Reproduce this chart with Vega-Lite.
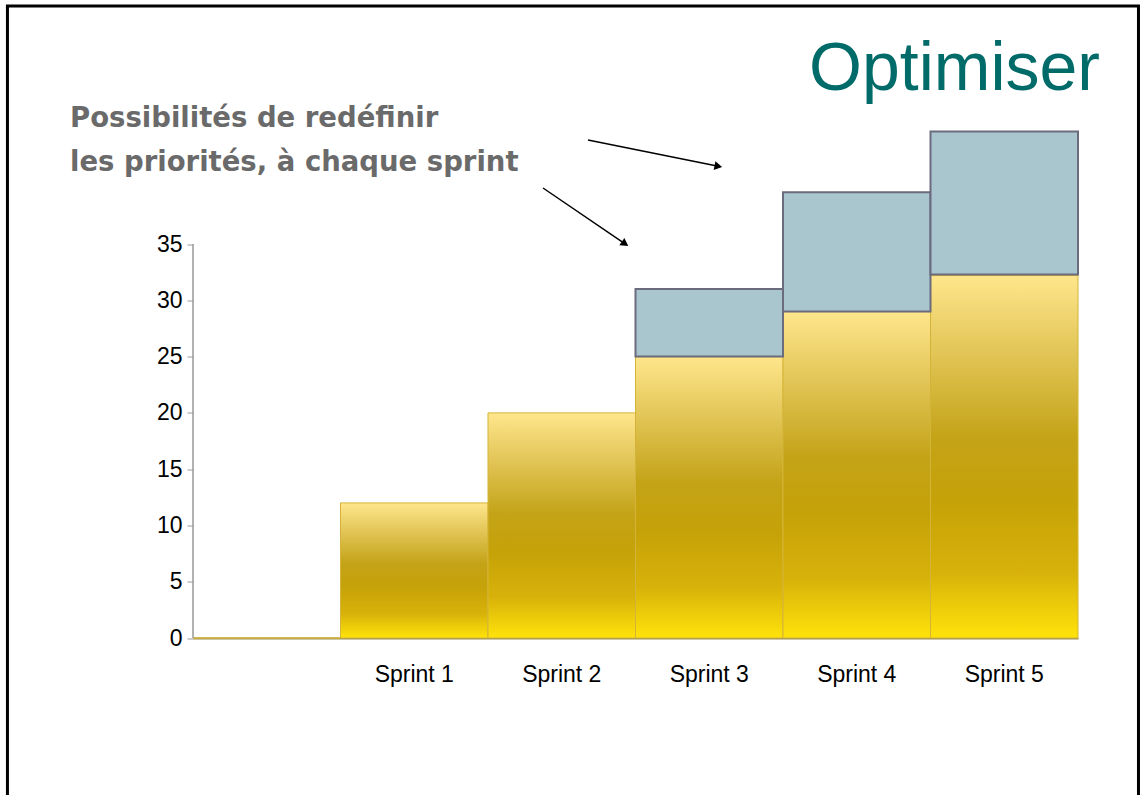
{
  "$schema": "https://vega.github.io/schema/vega-lite/v6.json",
  "width": 885,
  "height": 506.5,
  "autosize": "none",
  "padding": {"left": 193, "top": 131.5, "right": 62, "bottom": 157},
  "background": "white",
  "config": {"view": {"stroke": null}, "font": "Liberation Sans"},
  "title": {
    "text": "Optimiser",
    "anchor": "end",
    "frame": "group",
    "font": "Liberation Sans",
    "fontSize": 68,
    "fontWeight": "normal",
    "color": "#006B68",
    "baseline": "alphabetic",
    "offset": -153,
    "dx": 22
  },
  "datasets": {
    "done": [
      {"sprint": "", "points": 0},
      {"sprint": "Sprint 1", "points": 12},
      {"sprint": "Sprint 2", "points": 20},
      {"sprint": "Sprint 3", "points": 25},
      {"sprint": "Sprint 4", "points": 29},
      {"sprint": "Sprint 5", "points": 32.2}
    ],
    "reprioritised": [
      {"sprint": "Sprint 3", "low": 25, "high": 31},
      {"sprint": "Sprint 4", "low": 29, "high": 39.6},
      {"sprint": "Sprint 5", "low": 32.3, "high": 45}
    ],
    "notes": [
      {"line": "Possibilités de redéfinir", "px": -0.834, "py": 45.4},
      {"line": "les priorités, à chaque sprint", "px": -0.834, "py": 41.5}
    ],
    "arrows": [
      {"id": "a", "x1": 2.678, "y1": 44.24, "x2": 3.553, "y2": 41.93},
      {"id": "b", "x1": 2.373, "y1": 39.98, "x2": 2.922, "y2": 35.09}
    ],
    "axisline": [{"x": 0, "y": 0, "y2": 35}],
    "frame": [{"x": -1.258, "x2": 6.41, "y": 56.15, "y2": -14.4}]
  },
  "layer": [
    {
      "layer": [
        {
          "data": {"name": "done"},
          "mark": {
            "type": "bar",
            "stroke": "#D4B438",
            "strokeWidth": 1,
            "color": {
              "gradient": "linear",
              "x1": 0, "y1": 0, "x2": 0, "y2": 1,
              "stops": [
                {"offset": 0, "color": "#FFE68C"},
                {"offset": 0.2, "color": "#E3C75A"},
                {"offset": 0.45, "color": "#C4A317"},
                {"offset": 0.62, "color": "#C5A208"},
                {"offset": 0.82, "color": "#D8B20A"},
                {"offset": 1, "color": "#FFE30A"}
              ]
            }
          },
          "encoding": {
            "x": {
              "field": "sprint",
              "type": "nominal",
              "sort": ["", "Sprint 1", "Sprint 2", "Sprint 3", "Sprint 4", "Sprint 5"],
              "scale": {"paddingInner": 0, "paddingOuter": 0},
              "axis": {
                "title": null,
                "labelAngle": 0,
                "ticks": false,
                "labelFontSize": 23,
                "labelColor": "#000000",
                "labelPadding": 25,
                "domainColor": "#9C8F55",
                "domainWidth": 2
              }
            },
            "y": {
              "field": "points",
              "type": "quantitative",
              "scale": {"domain": [0, 45], "nice": false, "zero": true},
              "axis": {
                "title": null,
                "values": [0, 5, 10, 15, 20, 25, 30, 35],
                "grid": false,
                "domain": false,
                "tickColor": "#999999",
                "tickSize": 6,
                "labelFontSize": 23,
                "labelColor": "#000000",
                "labelPadding": 5
              }
            }
          }
        },
        {
          "data": {"name": "reprioritised"},
          "mark": {"type": "bar", "color": "#A9C5CE", "stroke": "#6B6B7E", "strokeWidth": 2},
          "encoding": {
            "x": {"field": "sprint", "type": "nominal", "sort": ["", "Sprint 1", "Sprint 2", "Sprint 3", "Sprint 4", "Sprint 5"]},
            "y": {"field": "low", "type": "quantitative"},
            "y2": {"field": "high"}
          }
        }
      ]
    },
    {
      "layer": [
        {
          "data": {"name": "axisline"},
          "mark": {"type": "rule", "color": "#999999", "strokeWidth": 1.5},
          "encoding": {
            "x": {"field": "x", "type": "quantitative", "scale": {"domain": [0, 6], "nice": false, "zero": false}, "axis": null},
            "y": {"field": "y", "type": "quantitative", "scale": {"domain": [0, 45], "nice": false}, "axis": null},
            "y2": {"field": "y2"}
          }
        },
        {
          "data": {"name": "notes"},
          "mark": {"type": "text", "align": "left", "baseline": "alphabetic", "font": "DejaVu Sans", "fontWeight": "bold", "fontSize": 27.5, "color": "#6A6A6A"},
          "encoding": {
            "x": {"field": "px", "type": "quantitative"},
            "y": {"field": "py", "type": "quantitative"},
            "text": {"field": "line"}
          }
        },
        {
          "data": {"name": "arrows"},
          "mark": {"type": "rule", "color": "#000000", "strokeWidth": 1.5},
          "encoding": {
            "x": {"field": "x1", "type": "quantitative"},
            "y": {"field": "y1", "type": "quantitative"},
            "x2": {"field": "x2"},
            "y2": {"field": "y2"}
          }
        },
        {
          "data": {"name": "arrows"},
          "transform": [{"filter": "datum.id === 'a'"}],
          "mark": {"type": "point", "shape": "triangle", "filled": true, "color": "#000000", "opacity": 1, "size": 80, "angle": 101.4},
          "encoding": {
            "x": {"field": "x2", "type": "quantitative"},
            "y": {"field": "y2", "type": "quantitative"}
          }
        },
        {
          "data": {"name": "arrows"},
          "transform": [{"filter": "datum.id === 'b'"}],
          "mark": {"type": "point", "shape": "triangle", "filled": true, "color": "#000000", "opacity": 1, "size": 80, "angle": 124.3},
          "encoding": {
            "x": {"field": "x2", "type": "quantitative"},
            "y": {"field": "y2", "type": "quantitative"}
          }
        },
        {
          "data": {"name": "frame"},
          "mark": {"type": "rect", "filled": false, "stroke": "#000000", "strokeWidth": 3},
          "encoding": {
            "x": {"field": "x", "type": "quantitative"},
            "x2": {"field": "x2"},
            "y": {"field": "y", "type": "quantitative"},
            "y2": {"field": "y2"}
          }
        }
      ]
    }
  ],
  "resolve": {"scale": {"x": "independent", "y": "independent"}, "axis": {"x": "independent", "y": "independent"}}
}
